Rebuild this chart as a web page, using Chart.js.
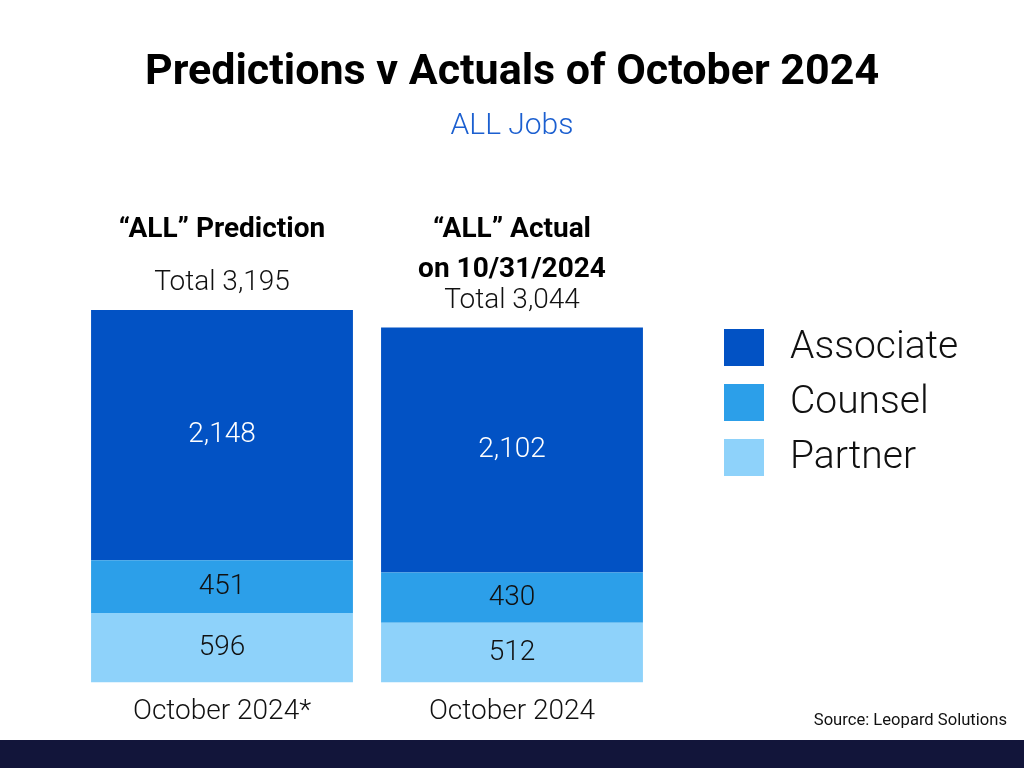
<!DOCTYPE html>
<html>
<head>
<meta charset="utf-8">
<title>Predictions v Actuals of October 2024</title>
<script src="https://cdn.jsdelivr.net/npm/chart.js@4.4.1/dist/chart.umd.min.js"></script>
<style>
  html, body { margin: 0; padding: 0; background: #ffffff; }
  #chart { display: block; }
</style>
</head>
<body>
<canvas id="chart" width="1024" height="768"></canvas>
<script>
// data
var categories = ["October 2024*", "October 2024"];
var seriesNames = ["Partner", "Counsel", "Associate"];
var partnerValues = [596, 512];
var counselValues = [451, 430];
var associateValues = [2148, 2102];
var barHeaders = [["\u201cALL\u201d Prediction"], ["\u201cALL\u201d Actual", "on 10/31/2024"]];
var totals = [3195, 3044];

var colors = {
    Associate: "#0252C4",
    Counsel: "#2C9FE9",
    Partner: "#8ED2FA"
};
var labelColors = {
    Associate: "#ffffff",
    Counsel: "#111111",
    Partner: "#111111"
};

var FONT = "Roboto, 'Open Sans', 'DejaVu Sans', sans-serif";

function fmt(n) {
    return n.toLocaleString("en-US");
}

// texts, legend, footer drawn on top of the chart
var decorPlugin = {
    id: "decor",
    afterDatasetsDraw: function (chart) {
        var ctx = chart.ctx;
        var x = chart.scales.x;
        ctx.save();
        ctx.textAlign = "center";
        ctx.textBaseline = "middle";

        // title + subtitle
        ctx.fillStyle = "#000000";
        ctx.font = "bold 43px " + FONT;
        ctx.fillText("Predictions v Actuals of October 2024", 512, 73);
        ctx.fillStyle = "#1B5FD0";
        ctx.font = "300 30px " + FONT;
        ctx.fillText("ALL Jobs", 512, 126);

        // value labels inside segments
        chart.data.datasets.forEach(function (ds, di) {
            var meta = chart.getDatasetMeta(di);
            meta.data.forEach(function (bar, i) {
                ctx.fillStyle = labelColors[ds.label];
                ctx.font = "300 28px " + FONT;
                ctx.fillText(fmt(ds.data[i]), bar.x, (bar.y + bar.base) / 2);
            });
        });

        // headers above each bar
        var topMeta = chart.getDatasetMeta(chart.data.datasets.length - 1);
        categories.forEach(function (c, i) {
            var cx = x.getPixelForValue(i);
            var barTop = topMeta.data[i].y;
            ctx.fillStyle = "#000000";
            ctx.font = "bold 28px " + FONT;
            barHeaders[i].forEach(function (line, li) {
                ctx.fillText(line, cx, 230 + li * 40);
            });
            ctx.font = "300 28px " + FONT;
            ctx.fillStyle = "#111111";
            ctx.fillText("Total " + fmt(totals[i]), cx, barTop - 27);
        });

        // legend
        var legendOrder = ["Associate", "Counsel", "Partner"];
        ctx.textAlign = "left";
        legendOrder.forEach(function (name, i) {
            var y = 329 + i * 55;
            ctx.fillStyle = colors[name];
            ctx.fillRect(724, y, 40, 37);
            ctx.fillStyle = "#111111";
            ctx.font = "300 39px " + FONT;
            ctx.fillText(name, 790, y + 19);
        });

        // source
        ctx.textAlign = "right";
        ctx.fillStyle = "#111111";
        ctx.font = "16.6px " + FONT;
        ctx.fillText("Source: Leopard Solutions", 1007, 721);

        // footer band
        ctx.fillStyle = "#12153A";
        ctx.fillRect(0, 740, 1024, 28);
        ctx.restore();
    }
};

var ctxBar = document.getElementById("chart").getContext("2d");
var myChart = new Chart(ctxBar, {
    type: "bar",
    data: {
        labels: categories,
        datasets: [
            { label: "Partner", data: partnerValues, backgroundColor: colors.Partner },
            { label: "Counsel", data: counselValues, backgroundColor: colors.Counsel },
            { label: "Associate", data: associateValues, backgroundColor: colors.Associate }
        ]
    },
    options: {
        responsive: false,
        animation: false,
        events: [],
        layout: {
            padding: { left: 77, right: 367, top: 310, bottom: 34 }
        },
        datasets: {
            bar: { categoryPercentage: 1, barPercentage: 0.903, borderWidth: 0 }
        },
        plugins: {
            legend: { display: false },
            title: { display: false },
            tooltip: { enabled: false }
        },
        scales: {
            x: {
                stacked: true,
                grid: { display: false },
                border: { display: false },
                ticks: {
                    color: "#111111",
                    padding: 5,
                    font: { family: FONT, size: 28, weight: "300" }
                }
            },
            y: {
                stacked: true,
                display: false,
                min: 0,
                max: Math.max.apply(null, totals)
            }
        }
    },
    plugins: [decorPlugin]
});
</script>
</body>
</html>
